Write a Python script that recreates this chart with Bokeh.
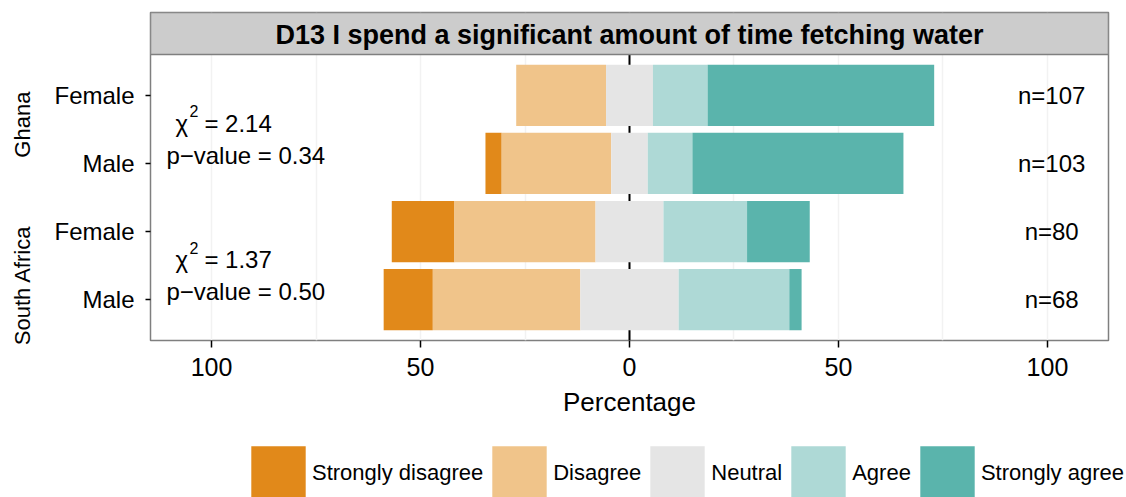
from bokeh.plotting import figure
from bokeh.layouts import column
from bokeh.models import Range1d, FixedTicker, Legend, LegendItem, LinearAxis
from bokeh.core.properties import value
from bokeh.embed import file_html
from bokeh.resources import INLINE

# ---------------- data ----------------
TITLE = "D13 I spend a significant amount of time fetching water"
countries = ["Ghana", "Ghana", "South Africa", "South Africa"]
genders = ["Female", "Male", "Female", "Male"]
levels = ["Strongly disagree", "Disagree", "Neutral", "Agree", "Strongly agree"]
colors = ["#E1891A", "#F0C48A", "#E5E5E5", "#AED9D6", "#5AB4AC"]
strongly_disagree = [0.00, 3.88, 15.00, 11.76]
disagree = [21.50, 26.21, 33.75, 35.29]
neutral = [11.21, 8.74, 16.25, 23.53]
agree = [13.08, 10.68, 20.00, 26.47]
strongly_agree = [54.21, 50.49, 15.00, 2.94]
n_resp = [107, 103, 80, 68]
stat_country = ["Ghana", "South Africa"]
chi_sq = ["2.14", "1.37"]
p_values = ["0.34", "0.50"]
x_ticks = [-100, -50, 0, 50, 100]
x_tick_labels = ["100", "50", "0", "50", "100"]
grid_ticks = [-100, -75, -50, -25, 0, 25, 50, 75, 100]

FONT = "Liberation Sans"

# ---------------- layout helpers ----------------
nrow = len(genders)
rows = [nrow - i for i in range(nrow)]          # top row first
Y_LO, Y_PANEL_TOP = 0.4, nrow + 0.6
STRIP_TOP = Y_PANEL_TOP + 0.617
X_LIM = 114.6
W, H_MAIN, H_LEG = 1126, 430, 67

half_n = [v / 2 for v in neutral]
sd_l = [-(h + d + s) for h, d, s in zip(half_n, disagree, strongly_disagree)]
sd_r = [-(h + d) for h, d in zip(half_n, disagree)]
d_l = sd_r
d_r = [-h for h in half_n]
n_l = d_r
n_r = half_n
a_l = half_n
a_r = [h + a for h, a in zip(half_n, agree)]
sa_l = a_r
sa_r = [h + a + s for h, a, s in zip(half_n, agree, strongly_agree)]
segments = [(sd_l, sd_r), (d_l, d_r), (n_l, n_r), (a_l, a_r), (sa_l, sa_r)]

p = figure(width=W, height=H_MAIN,
           x_range=Range1d(-X_LIM, X_LIM), y_range=Range1d(Y_LO, STRIP_TOP),
           output_backend="svg", toolbar_location=None,
           min_border_left=150, min_border_right=18,
           min_border_top=12, min_border_bottom=H_MAIN - 340)
p.frame_align = False
p.background_fill_color = "white"
p.border_fill_color = "white"
p.outline_line_color = "#7F7F7F"
p.outline_line_width = 1.5

# axes
p.xaxis.ticker = FixedTicker(ticks=x_ticks)
p.xaxis.major_label_overrides = {t: l for t, l in zip(x_ticks, x_tick_labels)}
p.xaxis.axis_line_color = None
p.xaxis.major_tick_line_color = "black"
p.xaxis.major_tick_line_width = 1.5
p.xaxis.major_tick_out = 7
p.xaxis.major_tick_in = 0
p.xaxis.minor_tick_line_color = None
p.xaxis.major_label_text_font = FONT
p.xaxis.major_label_text_font_size = "25px"
p.xaxis.major_label_text_color = "black"
p.xaxis.major_label_standoff = 10
p.xaxis.axis_label = "Percentage"
p.xaxis.axis_label_text_font = FONT
p.xaxis.axis_label_text_font_size = "26px"
p.xaxis.axis_label_text_font_style = "normal"
p.xaxis.axis_label_text_color = "black"
p.xaxis.axis_label_standoff = 8

p.yaxis.ticker = FixedTicker(ticks=rows)
p.yaxis.major_label_overrides = {r: g for r, g in zip(rows, genders)}
p.yaxis.axis_line_color = None
p.yaxis.major_tick_line_color = "black"
p.yaxis.major_tick_line_width = 1.5
p.yaxis.major_tick_out = 5
p.yaxis.major_tick_in = 0
p.yaxis.minor_tick_line_color = None
p.yaxis.major_label_text_font = FONT
p.yaxis.major_label_text_font_size = "24px"
p.yaxis.major_label_text_color = "black"
p.yaxis.major_label_standoff = 11

# country group labels as an outer left axis
group_pos = {"Ghana": 3.57, "South Africa": 1.21}
grp_axis = LinearAxis(ticker=FixedTicker(ticks=[group_pos[c] for c in stat_country]),
                      major_label_overrides={group_pos[c]: c for c in stat_country},
                      major_label_orientation="vertical",
                      axis_line_color=None, major_tick_line_color=None, minor_tick_line_color=None,
                      major_tick_out=0, major_tick_in=0, major_label_standoff=16,
                      major_label_text_font=FONT, major_label_text_font_size="22px",
                      major_label_text_color="black")
p.add_layout(grp_axis, "left")

p.xgrid.ticker = FixedTicker(ticks=grid_ticks)
p.xgrid.grid_line_color = "#F2F2F2"
p.xgrid.grid_line_width = 1.5
p.ygrid.grid_line_color = None

# centre line
p.segment(x0=[0], y0=[Y_LO], x1=[0], y1=[Y_PANEL_TOP], line_color="black", line_width=2)

# bars
for (lft, rgt), col in zip(segments, colors):
    p.hbar(y=rows, left=lft, right=rgt, height=0.9, fill_color=col, line_color=None)

# title strip
p.quad(left=[-X_LIM], right=[X_LIM], bottom=[Y_PANEL_TOP], top=[STRIP_TOP],
       fill_color="#CCCCCC", line_color="#7F7F7F", line_width=1.5)
p.text(x=[0], y=[(Y_PANEL_TOP + STRIP_TOP) / 2], text=[TITLE], text_align="center",
       text_baseline="middle", text_font=value(FONT), text_font_size="27px",
       text_font_style="bold", text_color="black", y_offset=1)

# n labels
p.text(x=[101] * nrow, y=rows, text=[f"n={n}" for n in n_resp], text_align="center",
       text_baseline="middle", text_font=value(FONT), text_font_size="24px", text_color="black")

# chi-square annotations (at each country's first row)
ANN_X = -110.8
first_rows = [rows[countries.index(c)] for c in stat_country]
common = dict(text_font=value(FONT), text_color="black", text_baseline="alphabetic", text_align="left")
p.text(x=[ANN_X] * 2, y=first_rows, text=["χ"] * 2, x_offset=9, y_offset=28, text_font_size="24px", **common)
p.text(x=[ANN_X] * 2, y=first_rows, text=["2"] * 2, x_offset=23, y_offset=16, text_font_size="16px", **common)
p.text(x=[ANN_X] * 2, y=first_rows, text=[f"= {c}" for c in chi_sq], x_offset=38, y_offset=28,
       text_font_size="24px", **common)
p.text(x=[ANN_X] * 2, y=first_rows, text=[f"p\u2212value = {v}" for v in p_values], x_offset=0, y_offset=60,
       text_font_size="24px", **common)

# ---------------- legend figure ----------------
lg = figure(width=W, height=H_LEG, x_range=Range1d(0, 1), y_range=Range1d(0, 1),
            output_backend="svg", toolbar_location=None,
            min_border_left=0, min_border_right=0, min_border_top=0, min_border_bottom=0)
lg.frame_align = False
lg.axis.visible = False
lg.grid.visible = False
lg.outline_line_color = None
lg.background_fill_color = "white"
lg.border_fill_color = "white"
# legend-only proxy glyphs (one zero-width bar placed below the visible range)
leg_renderers = [lg.hbar(y=[-5], left=[0], right=[0], height=0.5, fill_color=col, line_color=None)
                 for col in colors]
items = [LegendItem(label=lv, renderers=[r]) for lv, r in zip(levels, leg_renderers)]
legend = Legend(items=items, orientation="horizontal", location=(244, -10),
                glyph_width=68, glyph_height=68, label_standoff=0, spacing=2,
                padding=0, margin=0, border_line_color=None, background_fill_alpha=0,
                label_text_font=FONT, label_text_font_size="22px", label_text_color="black")
lg.add_layout(legend)

layout = column(p, lg, spacing=0)
open("out.html", "w").write(file_html(layout, INLINE))
